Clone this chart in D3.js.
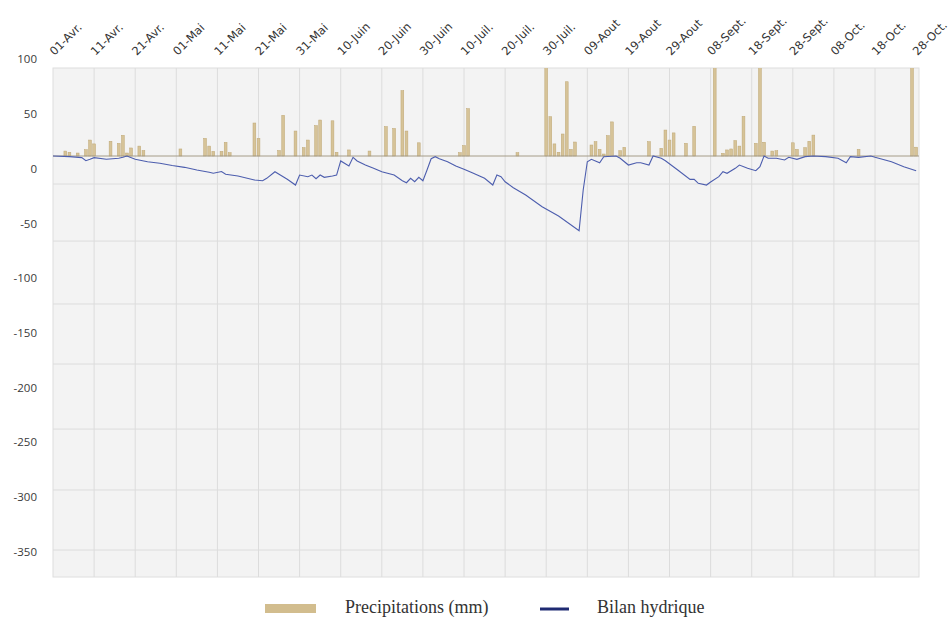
<!DOCTYPE html>
<html><head><meta charset="utf-8">
<script src="https://cdn.jsdelivr.net/npm/d3@7"></script>
<style>body{margin:0;background:#fff}</style>
</head><body><svg id="c" width="951" height="619"></svg>
<script>
// Day offsets are counted from 01-Avr.
const tickLabels = ["01-Avr.","11-Avr.","21-Avr.","01-Mai","11-Mai","21-Mai","31-Mai","10-Juin","20-Juin","30-Juin","10-Juil.","20-Juil.","30-Juil.","09-Aout","19-Aout","29-Aout","08-Sept.","18-Sept.","28-Sept.","08-Oct.","18-Oct.","28-Oct."];
const tickDays = [0,10,20,30,40,50,60,70,80,90,100,110,120,130,140,150,160,170,180,190,200,210];
const yTickValues = [100,50,0,-50,-100,-150,-200,-250,-300,-350];
const gridLevels = [-25.5,-77.3,-134.5,-189.1,-248.2,-303.6,-358.2];

const rainDays = [3,4,6,8,9,10,14,16,17,18,19,21,22,31,37,38,39,41,42,43,49,50,55,56,59,61,62,64,65,68,69,72,77,81,83,85,86,89,99,100,101,113,120,121,122,123,124,125,126,127,131,132,133,134,135,136,138,139,145,148,149,150,151,154,156,161,163,164,165,166,167,168,171,172,173,175,176,180,181,183,184,185,196,209,210];
const rainValues = [4.5,3.4,2.7,5.7,14.5,11,13.4,11.5,18.8,2.7,7.3,9,5,6.4,16,9,4.2,4.2,12.4,3,30,16,5,37,22.7,7.6,14.5,27.6,32.7,32,3.4,5.5,4.5,26.7,25,59.4,22.7,12,3,9.4,43,3,100,35.7,11,3.4,20,67.5,6,12.7,10,13,6,1.8,18.5,31,4.8,7.9,13,7,23.6,14.5,21,11.5,27,100,2.4,5.5,6.4,14,9,36,11.5,100,12.5,4.5,4.8,12,6,7.6,13.4,19,6,100,8];

const bilanDays = [0,4,7,8,9,10,13,16,17,18,20,23,26,29,32,35,38,39,41,42,45,49,51,52,54,55,57,59,60,62,63,64,65,66,68,69,70,72,73,74,76,78,80,83,85,86,87,88,89,90,91,92,93,94,96,98,100,102,105,107,108,109,110,112,115,119,123,128,129,130,131,133,134,137,138,140,142,143,145,146,148,149,152,155,156,157,159,160,162,163,164,166,167,169,171,172,173,174,176,178,179,181,183,185,188,191,193,194,196,199,200,204,207,210];
const bilanValues = [0,-0.6,-1.5,-4.3,-3,-1.5,-3,-2.1,-1.2,0,-3,-5.2,-6.6,-8.6,-10.3,-12.7,-14.8,-15.7,-14.1,-16.6,-18.2,-21.8,-22.5,-20.3,-14.3,-16.6,-21.2,-26.4,-17.3,-18.8,-17.3,-20.6,-17.3,-19.4,-18.2,-17.3,-4.5,-9.1,-1.2,-4.5,-8.2,-11.2,-14.3,-17.3,-22.5,-24.3,-20.3,-23.4,-19.4,-22.5,-12.7,-2.5,-0.6,-2.5,-5.2,-9.1,-12.1,-15.2,-20.3,-26.4,-17.3,-18.8,-23.4,-28.8,-35.5,-46.1,-54.5,-67.9,-30.9,-5.2,-3,-6.1,-0.6,0,-2.1,-8.2,-6.1,-6.1,-8.2,0,-2.1,-4.3,-12.7,-21.2,-21.2,-24.8,-26.4,-23.6,-18.8,-14.3,-15.7,-11.2,-8.2,-11.2,-13.4,-9.7,0,-2.1,-2.1,-3.6,-1.2,-3,-0.6,0,-0.6,-2.1,-6.1,-0.6,-1.2,0,-1.2,-5.2,-9.7,-13.4];

const svg = d3.select('#c');
const L = 53, R = 919, T = 68, B = 577;
const x = d3.scaleLinear().domain([0, 210.7]).range([L, R]);
const y = d3.scaleLinear().domain([80, -382.7]).range([T, B]);
const yLab = d3.scaleLinear().domain([100, -350]).range([59.3, 551.7]);

svg.append('defs').append('clipPath').attr('id', 'plot')
  .append('rect').attr('x', L).attr('y', T).attr('width', R - L).attr('height', B - T);

// plot background
svg.append('rect').attr('x', L).attr('y', T).attr('width', R - L).attr('height', B - T)
  .attr('fill', '#f3f3f3').attr('stroke', '#dedede').attr('stroke-width', 1);

// vertical grid
svg.append('g').selectAll('line').data(tickDays.filter(d => d > 0 && d < 210)).join('line')
  .attr('x1', d => x(d)).attr('x2', d => x(d)).attr('y1', T).attr('y2', B)
  .attr('stroke', '#dcdcdc').attr('stroke-width', 1);

// horizontal grid
svg.append('g').selectAll('line').data(gridLevels).join('line')
  .attr('x1', L).attr('x2', R).attr('y1', d => y(d)).attr('y2', d => y(d))
  .attr('stroke', '#dcdcdc').attr('stroke-width', 1);

// top axis labels
const xAxis = d3.axisTop(x).tickValues(tickDays).tickSize(0).tickFormat((d, i) => tickLabels[i]);
const gx = svg.append('g').attr('transform', `translate(0,${T - 12})`).call(xAxis);
gx.select('.domain').remove();
gx.selectAll('text')
  .attr('font-family', 'DejaVu Sans, sans-serif').attr('font-size', 11.5).attr('fill', '#333')
  .attr('text-anchor', 'start').attr('dy', 0).attr('y', 0)
  .attr('transform', 'translate(1,0) rotate(-45)');

// left axis labels
const yAxis = d3.axisLeft(yLab).tickValues(yTickValues).tickSize(0).tickFormat(d => String(d));
const gy = svg.append('g').attr('transform', `translate(${L - 16},0)`).call(yAxis);
gy.select('.domain').remove();
gy.selectAll('text').attr('font-family', 'Open Sans, sans-serif').attr('font-size', 11.5).attr('fill', '#3a3a3a').attr('x', 0);

// bars
const rain = rainDays.map((d, i) => ({ d, v: rainValues[i] }));
svg.append('g').attr('clip-path', 'url(#plot)').selectAll('rect').data(rain).join('rect')
  .attr('x', d => x(d.d) - 1.4).attr('width', 2.8)
  .attr('y', d => y(d.v)).attr('height', d => y(0) - y(d.v))
  .attr('fill', '#d6c398').attr('stroke', '#bea673').attr('stroke-width', 0.5);

// zero baseline
svg.append('line').attr('x1', L).attr('x2', R).attr('y1', y(0)).attr('y2', y(0))
  .attr('stroke', '#a59c88').attr('stroke-width', 1);

// water balance line
const bilan = bilanDays.map((d, i) => [d, bilanValues[i]]);
svg.append('path').datum(bilan).attr('clip-path', 'url(#plot)')
  .attr('d', d3.line().x(d => x(d[0])).y(d => y(d[1])))
  .attr('fill', 'none').attr('stroke', '#4d5eae').attr('stroke-width', 1.1);

// legend
const lg = svg.append('g');
lg.append('rect').attr('x', 265).attr('y', 604).attr('width', 51).attr('height', 9).attr('fill', '#d2bd8e');
lg.append('text').attr('x', 345).attr('y', 609).attr('dominant-baseline', 'middle')
  .attr('font-family', 'Liberation Serif, Times New Roman, serif').attr('font-size', 18).attr('fill', '#333')
  .text('Precipitations (mm)');
lg.append('line').attr('x1', 540).attr('x2', 569).attr('y1', 609).attr('y2', 609)
  .attr('stroke', '#1f2a72').attr('stroke-width', 3);
lg.append('text').attr('x', 597).attr('y', 609).attr('dominant-baseline', 'middle')
  .attr('font-family', 'Liberation Serif, Times New Roman, serif').attr('font-size', 18).attr('fill', '#333')
  .text('Bilan hydrique');
</script></body></html>
